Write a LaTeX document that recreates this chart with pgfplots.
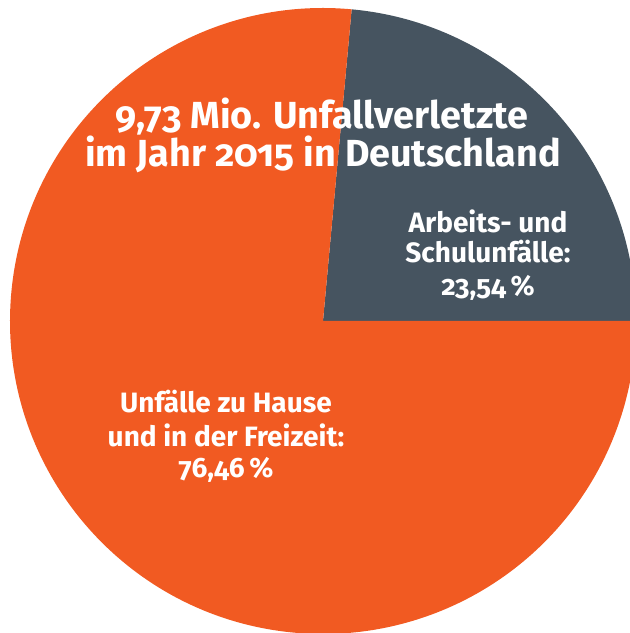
\documentclass[border=0pt]{standalone}
\usepackage{fontspec}
\setmainfont{Fira Sans}[Numbers=OldStyle]
\usepackage{pgfplots}
\usepackage{pgfplotstable}
\pgfplotsset{compat=1.18}
\definecolor{pieorange}{RGB}{241,90,34}
\definecolor{piegray}{RGB}{70,84,96}
\pgfplotstableread{
label value
Arbeit 23.54
Freizeit 76.46
}\piedata
\begin{document}
\begin{tikzpicture}
\pgfplotstablegetelem{0}{value}\of\piedata
\pgfmathsetmacro{\angA}{3.6*\pgfplotsretval}
\begin{axis}[x=0.75pt,y=0.75pt,xmin=-323,xmax=307,ymin=-312,ymax=321,
  hide axis, clip=true]
\addplot[draw=none] coordinates {(0,0)};
\fill[piegray] (axis cs:0,0) -- (axis cs:313,0) arc[start angle=0,end angle=\angA,radius=234.75pt] -- cycle;
\fill[pieorange] (axis cs:0,0) -- ++(\angA:234.75pt) arc[start angle=\angA,end angle=360,radius=234.75pt] -- cycle;
\begin{scope}[every node/.style={text=white,inner sep=0pt,anchor=base,font=\bfseries}]
\node[font=\bfseries\fontsize{28.3pt}{30pt}\selectfont] at (axis cs:-1,192) {9,73 Mio. Unfallverletzte};
\node[font=\bfseries\fontsize{28.3pt}{30pt}\selectfont] at (axis cs:0,154) {im Jahr 2015 in Deutschland};
\node[font=\bfseries\fontsize{21pt}{24pt}\selectfont] at (axis cs:165,88) {Arbeits- und};
\node[font=\bfseries\fontsize{21pt}{24pt}\selectfont] at (axis cs:165,58) {Schulunfälle:};
\node[font=\bfseries\fontsize{21pt}{24pt}\selectfont] at (axis cs:165,25) {23,54\,\%};
\node[font=\bfseries\fontsize{21pt}{24pt}\selectfont] at (axis cs:-97,-92) {Unfälle zu Hause};
\node[font=\bfseries\fontsize{21pt}{24pt}\selectfont] at (axis cs:-97,-126) {und in der Freizeit:};
\node[font=\bfseries\fontsize{21pt}{24pt}\selectfont] at (axis cs:-97,-157) {76,46\,\%};
\end{scope}
\end{axis}
\end{tikzpicture}
\end{document}
